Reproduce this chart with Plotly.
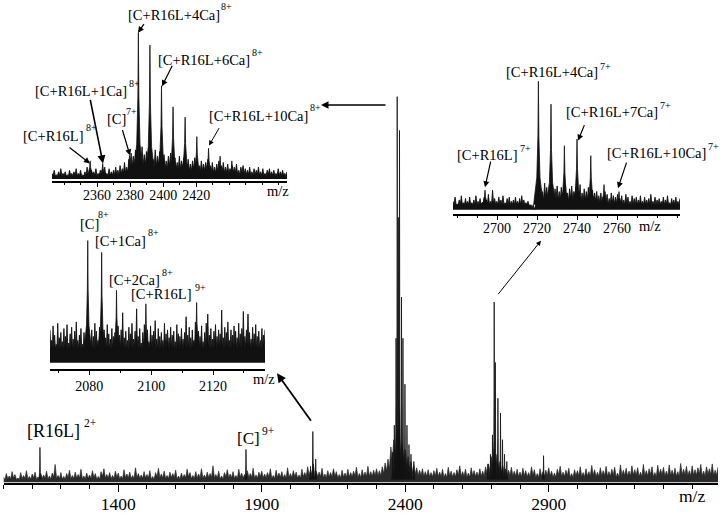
import numpy as np
import plotly.graph_objects as go

W, H = 720, 514
FONT = "Liberation Serif"
INK = "#111111"

# ---------------- data ----------------
# main spectrum (m/z 1000-3490), noise heights sampled every 10 m/z
main_range = [1000, 3490]
main_ticks = [1400, 1900, 2400, 2900]
main_noise = [
    1.2, 2.0, 1.5, 2.4, 1.8, 1.1, 2.2, 1.6, 2.6, 1.4,
    1.9, 2.3, 1.3, 2.0, 1.7, 2.5, 1.5, 2.1, 3.9, 1.6,
    2.2, 1.4, 2.0, 2.7, 1.6, 2.3, 1.8, 2.9, 1.5, 2.1,
    1.7, 2.6, 2.0, 1.4, 2.4, 3.0, 1.8, 2.2, 1.6, 2.5,
    2.1, 1.5, 2.8, 1.9, 2.3, 1.6, 3.2, 2.0, 1.7, 2.4,
    1.8, 2.6, 1.4, 2.2, 3.1, 1.9, 2.5, 1.6, 2.3, 2.0,
    2.7, 1.5, 2.1, 1.8, 2.9, 2.2, 1.6, 2.4, 1.9, 3.0,
    1.7, 2.3, 2.0, 3.6, 1.8, 2.5, 1.5, 2.2, 2.8, 1.9,
    2.4, 1.6, 2.9, 2.1, 1.8, 2.6, 2.0, 3.1, 1.7, 2.3,
    2.5, 1.9, 2.2, 3.0, 1.6, 2.7, 2.1, 2.4, 1.8, 3.2,
    2.0, 2.6, 2.3, 1.7, 2.9, 2.2, 3.4, 2.8, 4.0, 2.5,
    2.3, 3.1, 1.9, 2.6, 2.2, 3.0, 2.4, 1.8, 2.7, 2.1,
    2.9, 2.2, 2.5, 3.3, 2.0, 2.8, 2.3, 3.5, 2.4, 2.7,
    3.0, 2.6, 3.4, 4.2, 5.0, 7.5, 9.0, 10.5, 9.5, 8.0,
    7.0, 5.5, 4.5, 3.8, 3.2, 2.7, 3.0, 2.4, 2.8, 2.2,
    2.6, 3.1, 2.3, 2.9, 2.0, 3.3, 2.5, 2.2, 2.8, 3.6,
    2.4, 2.9, 2.1, 3.2, 2.6, 2.3, 3.0, 2.5, 3.4, 4.0,
    5.5, 7.0, 6.0, 4.5, 3.6, 3.0, 2.7, 3.3, 2.5, 2.9,
    2.3, 3.1, 2.6, 2.2, 3.4, 2.8, 2.0, 3.0, 2.4, 2.7,
    3.2, 2.5, 2.1, 2.9, 3.5, 2.3, 2.7, 3.1, 2.0, 2.8,
    2.6, 3.4, 2.2, 3.0, 2.4, 3.7, 2.8, 2.3, 3.2, 2.6,
    3.5, 2.4, 2.9, 3.3, 2.1, 3.8, 2.7, 3.1, 2.5, 3.6,
    2.8, 3.2, 2.3, 3.9, 2.6, 3.0, 3.4, 2.2, 3.7, 2.9,
    3.3, 2.5, 3.8, 2.7, 3.1, 2.4, 4.1, 2.9, 3.5, 2.6,
    3.6, 2.8, 3.2, 3.9, 2.5, 3.4, 3.0, 4.0, 2.7, 3.3,
]
main_peak_mz = [1127, 1845, 2070, 2078, 2088,
                2356, 2362, 2368, 2372, 2376, 2380, 2387, 2392, 2399, 2406, 2413, 2420, 2430,
                2688, 2697, 2704, 2710, 2714, 2723, 2732, 2739, 2746, 2754, 2882]
main_peak_h = [7.4, 7.0, 3.5, 10.7, 5.0,
               6.4, 12, 30, 80, 55, 73, 38.5, 30, 20.5, 12, 8, 6, 4.5,
               4, 6, 10, 37.5, 25, 17.6, 14.5, 9, 6, 4.5, 5.7]

# inset 1: 8+ region
ins1_range = [2332.7, 2475]
ins1_ticks = [2360, 2380, 2400, 2420]
ins1_noise = [
    5, 7, 4, 6, 8, 5, 6, 4, 7, 5,
    6, 8, 5, 7, 4, 6, 9, 5, 7, 6,
    8, 5, 7, 6, 9, 5, 8, 6, 7, 9,
    7, 10, 8, 12, 9, 14, 18, 16, 20, 15,
    18, 22, 17, 19, 15, 18, 14, 20, 16, 19,
    15, 17, 13, 16, 18, 14, 15, 12, 16, 13,
    15, 12, 14, 11, 13, 15, 12, 10, 13, 11,
    12, 14, 10, 12, 9, 11, 13, 10, 12, 9,
    11, 8, 10, 9, 11, 7, 9, 10, 8, 7,
    9, 6, 8, 7, 9, 6, 8, 5, 7, 8,
    6, 7, 5, 8, 6, 7, 5, 6,
]
ins1_peak_mz = [2355.8, 2363.4, 2379.6, 2385, 2392, 2399, 2406, 2413.3, 2420.4, 2427.5, 2434.5, 2441.6]
ins1_peak_h = [13, 11.4, 16.5, 95, 87, 61, 47.5, 41, 28.5, 21, 16, 13]

# inset 2: 7+ region
ins2_range = [2678, 2791.5]
ins2_ticks = [2700, 2720, 2740, 2760]
ins2_noise = [
    9, 12, 7, 10, 13, 8, 11, 9, 12, 8,
    10, 13, 9, 11, 8, 12, 10, 14, 9, 17,
    11, 9, 12, 10, 13, 8, 11, 12, 9, 10,
    12, 9, 11, 13, 10, 8, 9, 6, 4, 3,
    8, 18, 20, 16, 22, 19, 17, 21, 15, 18,
    20, 16, 19, 17, 21, 15, 18, 20, 16, 19,
    17, 21, 15, 18, 16, 19, 14, 17, 15, 16,
    13, 15, 12, 16, 14, 11, 15, 13, 12, 14,
    11, 13, 10, 14, 12, 9, 13, 11, 12, 10,
    13, 9, 12, 10, 11, 14, 9, 12, 10, 11,
    9, 12, 10, 13, 8, 11, 10, 12, 9, 11,
]
ins2_peak_mz = [2694, 2720.7, 2727, 2733.7, 2740, 2746.9, 2753.5, 2761]
ins2_peak_h = [17, 95, 78.6, 48.8, 53.6, 41.7, 21, 16]

# inset 3: [C] 8+ region
ins3_range = [2067.3, 2136.8]
ins3_ticks = [2080, 2100, 2120]
ins3_noise = [
    30, 22, 33, 26, 19, 35, 24, 28, 21, 31,
    25, 34, 20, 27, 32, 23, 29, 36, 22, 26,
    31, 19, 28, 24, 33, 27, 21, 30, 25, 35,
    29, 22, 32, 26, 20, 30, 24, 34, 27, 23,
    31, 25, 28, 21, 33, 26, 30, 43, 24, 29,
    22, 32, 27, 35, 23, 29, 46, 25, 31, 20,
    28, 34, 24, 30, 21, 33, 26, 29, 37, 23,
    31, 25, 28, 22, 35, 27, 30, 24, 32, 26,
    29, 21, 34, 27, 25, 31, 23, 28, 40, 26,
    32, 24, 30, 22, 36, 27, 29, 25, 33, 21,
    28, 35, 42, 26, 31, 23, 29, 34, 25, 30,
    27, 45, 24, 32, 28, 36, 22, 30, 26, 33,
    29, 24, 35, 27, 31, 44, 25, 30, 42, 28,
    23, 32, 27, 34, 25, 29, 22, 31, 26, 30,
]
ins3_peak_mz = [2079.5, 2084, 2088.8, 2098.3, 2114.7]
ins3_peak_h = [97.8, 88.8, 60, 49.8, 50.7]


# ---------------- helpers ----------------
def px(xp):
    return xp / W


def py(yp):
    return 1 - yp / H


def noise_xy(rng, vals, valley):
    """zig-zag line: every sample is a spike, valleys drawn between spikes"""
    v = np.asarray(vals, dtype=float)
    x = np.linspace(rng[0], rng[1], len(v))
    dx = x[1] - x[0]
    lows = np.maximum(valley, 0.6 * np.minimum(v, np.roll(v, -1)))
    xs = np.empty(2 * len(v))
    ys = np.empty(2 * len(v))
    xs[0::2] = x
    xs[1::2] = x + dx / 2
    ys[0::2] = v
    ys[1::2] = lows
    return xs[:-1], ys[:-1]


SHAPE_DX = [-3, -1, -0.3, 0, 0.3, 1, 3]
SHAPE_DY = [0, 0.22, 0.55, 1, 0.55, 0.22, 0]


def peaks_xy(mz, h, w, base):
    xs, ys = [], []
    for c, hh in zip(mz, h):
        for dxf, dyf in zip(SHAPE_DX, SHAPE_DY):
            xs.append(c + dxf * w)
            ys.append(base + dyf * (hh - base))
        xs.append(None)
        ys.append(None)
    return xs, ys


fig = go.Figure()


def add_spectrum(rng, noise, floor, valley, pmz, ph, w, xa, ya, lw, color):
    nx, ny = noise_xy(rng, noise, valley)
    fig.add_trace(go.Scatter(x=[nx[0], nx[-1]], y=[floor, floor], mode="lines",
                             line=dict(width=0, color=color),
                             xaxis=xa, yaxis=ya, hoverinfo="skip", showlegend=False))
    fig.add_trace(go.Scatter(x=nx, y=ny, mode="lines", line=dict(color=color, width=lw),
                             fill="tonexty", fillcolor=color,
                             xaxis=xa, yaxis=ya, hoverinfo="skip", showlegend=False))
    qx, qy = peaks_xy(pmz, ph, w, valley)
    fig.add_trace(go.Scatter(x=qx, y=qy, mode="lines", fill="toself", fillcolor=INK,
                             line=dict(color=INK, width=0.8),
                             xaxis=xa, yaxis=ya, hoverinfo="skip", showlegend=False))


add_spectrum(main_range, main_noise, 0.2, 0.8, main_peak_mz, main_peak_h, 1.2, "x", "y", 0.7, "#2a2a2a")
add_spectrum(ins1_range, ins1_noise, 1.5, 3.5, ins1_peak_mz, ins1_peak_h, 1.0, "x2", "y2", 0.9, INK)
add_spectrum(ins2_range, ins2_noise, 3.0, 6.5, ins2_peak_mz, ins2_peak_h, 0.8, "x3", "y3", 0.9, INK)
add_spectrum(ins3_range, ins3_noise, 5.0, 15.0, ins3_peak_mz, ins3_peak_h, 0.4, "x4", "y4", 0.9, INK)


def xaxis_cfg(domain, rng, tickvals, anchor, size, ticklen, minor_dtick, minor_tick0, lw, standoff):
    return dict(domain=domain, range=rng, anchor=anchor, showgrid=False, zeroline=False,
                showline=True, linecolor="black", linewidth=lw, ticks="outside",
                tickvals=tickvals, ticklen=ticklen, tickwidth=1.2, tickcolor="black",
                ticklabelstandoff=standoff,
                tickfont=dict(family=FONT, size=size, color="black"),
                minor=dict(ticks="outside", dtick=minor_dtick, tick0=minor_tick0,
                           ticklen=max(2, ticklen - 3), tickwidth=1, tickcolor="black"),
                fixedrange=True)


def yaxis_cfg(domain, anchor):
    return dict(domain=domain, range=[0, 100], anchor=anchor, visible=False, fixedrange=True)


layout = dict(
    width=W, height=H, margin=dict(l=0, r=0, t=0, b=0),
    paper_bgcolor="white", plot_bgcolor="rgba(0,0,0,0)",
    showlegend=False,
    xaxis=xaxis_cfg([px(3.5), px(718)], main_range, main_ticks, "y", 17.5, 7, 100, 1000, 2, -3),
    yaxis=yaxis_cfg([py(488), 1], "x"),
    xaxis2=xaxis_cfg([px(52), px(287)], ins1_range, ins1_ticks, "y2", 14, 4, 10, 2340, 1.5, -4),
    yaxis2=yaxis_cfg([py(183), py(25)], "x2"),
    xaxis3=xaxis_cfg([px(453), px(680)], ins2_range, ins2_ticks, "y3", 14, 4, 10, 2680, 1.5, -3),
    yaxis3=yaxis_cfg([py(216), py(75)], "x3"),
    xaxis4=xaxis_cfg([px(50), px(265)], ins3_range, ins3_ticks, "y4", 14, 4, 10, 2070, 1.5, -1),
    yaxis4=yaxis_cfg([py(373), py(240)], "x4"),
)
fig.update_layout(**layout)

annots = []


def label(text, xl, yc, size):
    annots.append(dict(text=text, x=px(xl), y=py(yc), xref="paper", yref="paper",
                       xanchor="left", yanchor="middle", showarrow=False, borderpad=0,
                       font=dict(family=FONT, size=size, color="black")))


def arrow(x0, y0, x1, y1, width=1.2, size=1.0):
    annots.append(dict(text="", x=px(x1), y=py(y1), xref="paper", yref="paper",
                       ax=x0 - x1, ay=y0 - y1, axref="pixel", ayref="pixel",
                       showarrow=True, arrowhead=2, arrowsize=size, arrowwidth=width,
                       arrowcolor="black", standoff=0, startstandoff=0))


LBL = 14.5
SUP = 10
for base, bx, by, sup, sx, sy in [
    ("[C+R16L+4Ca]", 127, 15, "8+", 220, 7),
    ("[C+R16L+6Ca]", 157, 61, "8+", 251, 53),
    ("[C+R16L+1Ca]", 34, 92, "8+", 128, 84),
    ("[C]", 106, 120, "7+", 125, 113),
    ("[C+R16L+10Ca]", 208, 117, "8+", 309, 109),
    ("[C+R16L]", 22, 137, "8+", 85, 129),
    ("[C+R16L+4Ca]", 505, 73, "7+", 599, 67),
    ("[C+R16L+7Ca]", 565, 113, "7+", 659, 107),
    ("[C+R16L]", 456, 157, "7+", 519, 150),
    ("[C+R16L+10Ca]", 606, 155, "7+", 707, 148),
    ("[C]", 79, 226, "8+", 97, 217),
    ("[C+1Ca]", 94, 243, "8+", 147, 235),
    ("[C+2Ca]", 108, 283, "8+", 161, 275),
    ("[C+R16L]", 130, 297, "9+", 194, 290),
]:
    label(base, bx, by, LBL)
    label(sup, sx, sy, SUP)

label("[R16L]", 26, 435, 18)
label("2+", 83, 427, 11.5)
label("[C]", 236, 443, 17)
label("9+", 261, 435, 11.5)

# m/z axis captions
label("m/z", 678, 501, 17.5)
label("m/z", 266, 193, 14.5)
label("m/z", 638, 228, 14.5)
label("m/z", 252, 383, 14.5)

# arrows inside insets
arrow(145, 23, 138, 33)
arrow(173, 65, 162, 87)
arrow(90, 100, 103, 165, width=1.6)
arrow(122, 130, 130, 157)
arrow(220, 128, 209, 147, width=1.0)
arrow(68, 148, 90, 165)
arrow(491, 162, 485, 189)
arrow(585, 125, 578, 142)
arrow(627, 163, 618, 190)
# arrows from main peaks to insets
arrow(387, 106, 321, 106, width=1.5)
arrow(497, 298, 541, 243, width=1.0)
arrow(312, 426, 277, 377, width=1.8)

fig.update_layout(annotations=annots)
fig.write_html("out.html", config={"displayModeBar": False},
               post_script="document.body.style.margin='0';")
